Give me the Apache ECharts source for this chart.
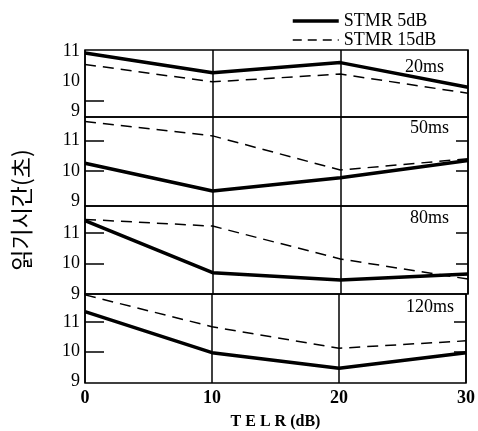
<!DOCTYPE html>
<html><head><meta charset="utf-8">
<script src="https://cdn.jsdelivr.net/npm/echarts@6/dist/echarts.min.js"></script>
<style>html,body{margin:0;padding:0;background:#fff}#c{width:478px;height:431px}</style>
</head><body><div id="c"></div>
<script>
// ---- data ----
const telr = [0, 10, 20, 30];
const xTicks = [0, 10, 20, 30];
const yTicks = [9, 10, 11];
const panelNames = ['20ms', '50ms', '80ms', '120ms'];
const stmr5_20 = [10.95, 10.29, 10.63, 9.81];
const stmr15_20 = [10.57, 9.99, 10.25, 9.61];
const stmr5_50 = [10.25, 9.34, 9.78, 10.34];
const stmr15_50 = [11.62, 11.15, 10.03, 10.40];
const stmr5_80 = [11.41, 9.70, 9.46, 9.66];
const stmr15_80 = [11.45, 11.23, 10.15, 9.49];
const stmr5_120 = [11.35, 9.96, 9.43, 9.96];
const stmr15_120 = [11.92, 10.84, 10.11, 10.36];
const seriesNames = ['STMR 5dB', 'STMR 15dB'];

// ---- layout ----
const solidSets = [stmr5_20, stmr5_50, stmr5_80, stmr5_120];
const dashSets = [stmr15_20, stmr15_50, stmr15_80, stmr15_120];
const grids = [
  {top: 50, height: 67},
  {top: 117, height: 89},
  {top: 206, height: 88},
  {top: 294, height: 89}
];
const yRanges = [[8.82, 11.05], [8.85, 11.77], [9.0, 11.89], [8.93, 11.95]];
const leftTicks = [[9.35], [10, 11], [10, 11], [10, 11]];
const rightTicks = [[], [10, 11], [10, 11], [10, 11]];
const labelPos = [[447, 67], [452, 128], [452, 218], [457, 307]];
const serif = 'Liberation Serif';
const solidStyle = {color: '#000', width: 3.5, type: 'solid'};
const dashStyle = {color: '#000', width: 1.5, type: [11, 7]};

const option = {
  backgroundColor: '#fff',
  animation: false,
  legend: {
    data: [
      {name: seriesNames[0], lineStyle: {width: 3.5, type: 'solid', color: '#000'}},
      {name: seriesNames[1], lineStyle: {width: 1.5, type: [9, 6], color: '#000'}}
    ],
    orient: 'vertical',
    left: 286, top: 7,
    itemWidth: 46, itemHeight: 12, itemGap: 1,
    itemStyle: {opacity: 0},
    textStyle: {fontFamily: serif, fontSize: 18, lineHeight: 18, color: '#000', padding: [0, 0, 0, 0]}
  },
  grid: grids.map(g => ({left: 85, right: 10, top: g.top, height: g.height,
    show: true, borderColor: '#000', borderWidth: 1.5, backgroundColor: 'transparent'})),
  xAxis: grids.map((g, i) => ({
    type: 'value', gridIndex: i, min: 0, max: 30, interval: 10,
    axisLine: {show: false}, axisTick: {show: false},
    splitLine: {show: true, lineStyle: {color: '#000', width: 1.5}},
    axisLabel: i === 3 ? {show: true, customValues: xTicks, fontFamily: serif, fontSize: 18,
      fontWeight: 'bold', color: '#000', margin: 6} : {show: false},
    name: i === 3 ? 'T E L R (dB)' : '',
    nameLocation: 'middle', nameGap: 31,
    nameTextStyle: {fontFamily: serif, fontSize: 16, fontWeight: 'bold', color: '#000'}
  })),
  yAxis: [].concat(
    grids.map((g, i) => ({
      type: 'value', gridIndex: i, min: yRanges[i][0], max: yRanges[i][1],
      position: 'left',
      axisLine: {show: false},
      splitLine: {show: false},
      axisTick: {show: true, inside: true, length: 19, customValues: leftTicks[i],
        lineStyle: {color: '#000', width: 1.5}},
      axisLabel: {show: true, customValues: yTicks, fontFamily: serif, fontSize: 18,
        color: '#000', margin: 5}
    })),
    grids.map((g, i) => ({
      type: 'value', gridIndex: i, min: yRanges[i][0], max: yRanges[i][1],
      position: 'right',
      axisLine: {show: false},
      splitLine: {show: false},
      axisTick: {show: rightTicks[i].length > 0, inside: true, length: 12,
        customValues: rightTicks[i].length ? rightTicks[i] : [10],
        lineStyle: {color: '#000', width: 1.5}},
      axisLabel: {show: false}
    }))
  ),
  series: [].concat(...grids.map((g, i) => [
    {
      name: seriesNames[1], type: 'line', xAxisIndex: i, yAxisIndex: i,
      data: telr.map((x, j) => [x, dashSets[i][j]]),
      symbol: 'none', lineStyle: dashStyle,
      itemStyle: {color: '#000'}, z: 3
    },
    {
      name: seriesNames[0], type: 'line', xAxisIndex: i, yAxisIndex: i,
      data: telr.map((x, j) => [x, solidSets[i][j]]),
      symbol: 'none', lineStyle: solidStyle,
      itemStyle: {color: '#000'}, z: 4
    }
  ])),
  graphic: [].concat(
    [{
      type: 'text', x: 21, y: 210, rotation: Math.PI / 2,
      style: {text: '읽기시간(초)', fontFamily: 'Noto Sans CJK KR', fontSize: 23,
        fill: '#000', align: 'center', verticalAlign: 'middle'}
    }],
    panelNames.map((n, i) => ({
      type: 'text', x: labelPos[i][0], y: labelPos[i][1], z: 10,
      style: {text: n, fontFamily: serif, fontSize: 18, fill: '#000',
        align: 'right', verticalAlign: 'middle',
        backgroundColor: i === 3 ? '#fff' : 'transparent', padding: [1, 3]}
    }))
  )
};
echarts.init(document.getElementById('c')).setOption(option);
</script>
</body></html>
